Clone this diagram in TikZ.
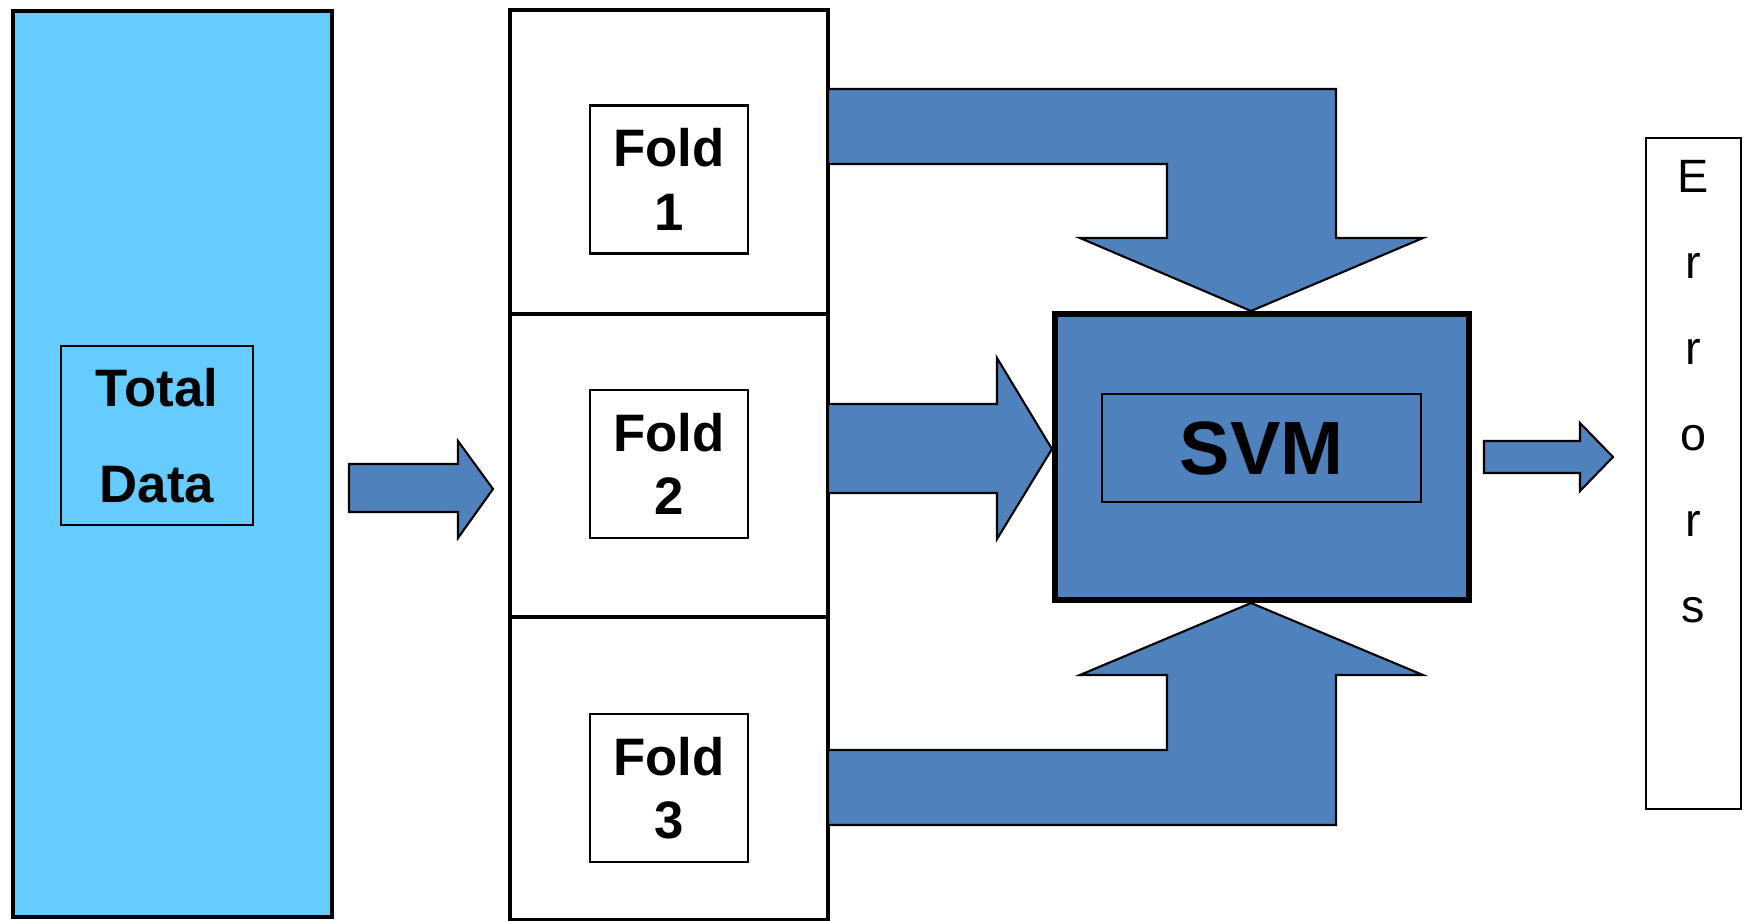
\documentclass[tikz,border=0pt]{standalone}
\usepackage{fontspec}
\setmainfont{Liberation Sans}
\usetikzlibrary{positioning}
\definecolor{datablue}{HTML}{66CCFF}
\definecolor{svmblue}{HTML}{4F81BD}

\begin{document}
\begin{tikzpicture}[x=0.01cm, y=-0.01cm,
    every node/.style={outer sep=0pt, inner sep=0pt},
    foldbox/.style={draw, line width=1.1pt, fill=white, minimum width=3.18cm, minimum height=3.03cm},
    labelbox/.style={draw, line width=0.6pt, align=center, font=\fontsize{15}{18}\selectfont\bfseries},
    blockarrow/.style={draw, fill=svmblue, line width=0.6pt, line join=miter}]

    \useasboundingbox (0,0) rectangle (1750,921);

    % Donnees
    \node[draw, line width=1.15pt, fill=datablue, minimum width=3.19cm, minimum height=9.06cm] (total) at (172.5,464) {};
    \node[labelbox, minimum width=1.92cm, minimum height=1.79cm, font=\fontsize{15}{27.5}\selectfont\bfseries] (totallabel) at (157,435.5) {Total\\Data};

    % Folds
    \node[foldbox] (fold1) at (669,162) {};
    \node[foldbox, below=0pt of fold1] (fold2) {};
    \node[foldbox, below=0pt of fold2] (fold3) {};

    \node[labelbox, fill=white, minimum width=1.58cm, minimum height=1.48cm] (f1) at (669,179.5) {Fold\\1};
    \node[labelbox, fill=white, minimum width=1.58cm, minimum height=1.48cm] (f2) at (669,464) {Fold\\2};
    \node[labelbox, fill=white, minimum width=1.58cm, minimum height=1.48cm] (f3) at (669,788) {Fold\\3};

    % SVM
    \node[draw, line width=1.7pt, fill=svmblue, minimum width=4.14cm, minimum height=2.86cm] (svm) at (1262,457) {};
    \node[labelbox, minimum width=3.19cm, minimum height=1.08cm, font=\fontsize{21.5}{26}\selectfont\bfseries] (svmlabel) at (1261.5,448) {SVM};

    % Erreurs
    \node[draw, line width=0.7pt, fill=white, minimum width=0.95cm, minimum height=6.71cm] (errors) at (1693.5,473.5) {};
    \node[anchor=north, align=center, font=\fontsize{13.3}{24.5}\selectfont] (errlabel) at ([yshift=-0.22cm]errors.north) {E\\r\\r\\o\\r\\s};

    % Fleches
    \draw[blockarrow] (349,464) -- (458,464) -- (458,441) -- (493,489) -- (458,538) -- (458,512) -- (349,512) -- cycle;
    \draw[blockarrow] (828,89) -- (1336,89) -- (1336,238) -- (1423,238) -- (1251,311) -- (1080,238) -- (1167,238) -- (1167,164) -- (828,164) -- cycle;
    \draw[blockarrow] (828,404) -- (997,404) -- (997,358) -- (1052,449) -- (997,539) -- (997,493) -- (828,493) -- cycle;
    \draw[blockarrow] (828,825) -- (1336,825) -- (1336,675) -- (1423,675) -- (1251,603) -- (1080,675) -- (1167,675) -- (1167,750) -- (828,750) -- cycle;
    \draw[blockarrow] (1484,441) -- (1580,441) -- (1580,423) -- (1613,457) -- (1580,491) -- (1580,473) -- (1484,473) -- cycle;

\end{tikzpicture}
\end{document}
